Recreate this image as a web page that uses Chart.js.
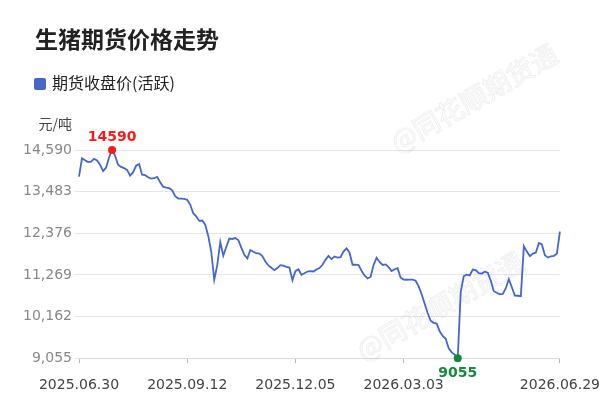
<!DOCTYPE html>
<html>
<head>
<meta charset="utf-8">
<script src="https://cdn.jsdelivr.net/npm/chart.js@4.4.1/dist/chart.umd.min.js"></script>
<style>
  body { margin: 0; background: #fff; }
  #wrap { position: relative; width: 600px; height: 408px; }
  #myChart { position: absolute; left: 0; top: 0; }
  #title { position: absolute; left: 35px; top: 24px; font: bold 23px "Noto Sans CJK SC"; color: #222; line-height: 28px; white-space: nowrap; }
  #legend { position: absolute; left: 34px; top: 72px; font: 16px "Noto Sans CJK SC"; color: #222; line-height: 20px; white-space: nowrap; }
  #legend i { display: inline-block; width: 12px; height: 12px; border-radius: 2px; vertical-align: -1px; margin-right: 6px; }
</style>
</head>
<body>
<div id="wrap">
  <canvas id="myChart" width="600" height="408"></canvas>
  <div id="title">生猪期货价格走势</div>
  <div id="legend"></div>
</div>
<script>
// 数据
var seriesName = '期货收盘价(活跃)';
var unitText = '元/吨';
var tickLabels = ['2025.06.30', '2025.09.12', '2025.12.05', '2026.03.03', '2026.06.29'];
var tickIndex = [0, 36, 72, 108, 160];
var yTicks = [9055, 10162, 11269, 12376, 13483, 14590];
var closePrices = [
  13880, 14370, 14320, 14270, 14280, 14355, 14310, 14200, 14030, 14120,
  14390, 14590, 14440, 14200, 14140, 14110, 14060, 13910, 14000, 14175,
  14215, 13935, 13920, 13865, 13830, 13840, 13875, 13735, 13615, 13590,
  13575, 13520, 13360, 13300, 13295, 13290, 13265, 13140, 12910, 12825,
  12705, 12715, 12605, 12305, 11885, 11140, 11530, 12145, 11780, 12010,
  12235, 12225, 12250, 12195, 11995, 11805, 11705, 11930, 11885, 11850,
  11835, 11770, 11625, 11520, 11460, 11395, 11450, 11530, 11515, 11485,
  11465, 11130, 11370, 11420, 11275, 11315, 11360, 11370, 11360, 11415,
  11450, 11540, 11670, 11775, 11690, 11760, 11730, 11740, 11890, 11975,
  11865, 11540, 11540, 11530, 11380, 11255, 11175, 11215, 11530, 11725,
  11615, 11535, 11550, 11475, 11370, 11420, 11450, 11195, 11145, 11140,
  11145, 11145, 11115, 10965, 10755, 10505, 10255, 10050, 9995, 9975,
  9770, 9645, 9570, 9320, 9210, 9150, 9055, 10815, 11235, 11275,
  11255, 11410, 11395, 11315, 11305, 11355, 11330, 11115, 10835, 10795,
  10755, 10765, 10915, 11155, 10940, 10720, 10715, 10705, 12035, 11890,
  11770, 11835, 11865, 12120, 12080, 11795, 11730, 11765, 11775, 11840,
  12420
];

var lineColor = '#4567cc';
var maxColor = '#ff1a1a';
var minColor = '#138a3c';
var numFont = '"DejaVu Sans", "Noto Sans CJK SC"';

var maxIdx = closePrices.indexOf(Math.max.apply(null, closePrices));
var minIdx = closePrices.indexOf(Math.min.apply(null, closePrices));

// 图例 (html)
document.getElementById('legend').innerHTML =
  '<i style="background:' + lineColor + '"></i>' + seriesName;

// 水印 + 单位 + 最高/最低标注
var extras = {
  id: 'extras',
  beforeDatasetsDraw: function (chart) {
    var c = chart.ctx;
    c.save();
    c.font = '27px "Noto Sans CJK SC"';
    c.strokeStyle = 'rgba(180,180,180,0.22)';
    c.lineWidth = 1;
    c.textAlign = 'center';
    c.textBaseline = 'middle';
    [[474, 98], [440, 306]].forEach(function (p) {
      c.save();
      c.translate(p[0], p[1]);
      c.rotate(-0.52);
      c.strokeText('@同花顺期货通', 0, 0);
      c.restore();
    });
    c.restore();
  },
  afterDatasetsDraw: function (chart) {
    var c = chart.ctx;
    var meta = chart.getDatasetMeta(0);
    var pMax = meta.data[maxIdx], pMin = meta.data[minIdx];
    c.save();
    c.font = 'bold 14px ' + numFont;
    c.textAlign = 'center';
    c.textBaseline = 'middle';
    c.fillStyle = maxColor;
    c.fillText(String(closePrices[maxIdx]), pMax.x, pMax.y - 13);
    c.fillStyle = minColor;
    c.fillText(String(closePrices[minIdx]), pMin.x, pMin.y + 15);

    var area = chart.chartArea;
    c.font = '14px "Noto Sans CJK SC"';
    c.fillStyle = '#444';
    c.textAlign = 'right';
    c.fillText(unitText, area.left - 7, area.top - 26);
    c.restore();
  }
};

var ctx = document.getElementById('myChart').getContext('2d');
var myChart = new Chart(ctx, {
  type: 'line',
  data: {
    datasets: [{
      label: seriesName,
      data: closePrices.map(function (v, i) { return { x: i, y: v }; }),
      borderColor: lineColor,
      backgroundColor: lineColor,
      borderWidth: 1.8,
      tension: 0,
      clip: false,
      pointRadius: function (c) { return (c.dataIndex === maxIdx || c.dataIndex === minIdx) ? 4 : 0; },
      pointHoverRadius: 0,
      pointBorderWidth: 0,
      pointBackgroundColor: function (c) { return c.dataIndex === maxIdx ? maxColor : minColor; }
    }]
  },
  options: {
    responsive: false,
    animation: false,
    devicePixelRatio: 1,
    layout: { padding: { top: 150, bottom: 0, left: 0, right: 0 } },
    plugins: {
      legend: { display: false },
      title: { display: false },
      tooltip: { enabled: false }
    },
    scales: {
      x: {
        type: 'linear',
        min: 0,
        max: closePrices.length - 1,
        afterBuildTicks: function (s) {
          s.ticks = tickIndex.map(function (v) { return { value: v }; });
        },
        ticks: {
          autoSkip: false,
          maxRotation: 0,
          padding: 0,
          color: '#444',
          font: { size: 14, family: numFont, lineHeight: 3.2 },
          callback: function (v) { return tickLabels[tickIndex.indexOf(v)]; }
        },
        grid: { drawOnChartArea: false, tickLength: 5, color: '#bbb' },
        border: { color: '#ddd' }
      },
      y: {
        min: yTicks[0],
        max: yTicks[yTicks.length - 1],
        afterBuildTicks: function (s) {
          s.ticks = yTicks.map(function (v) { return { value: v }; });
        },
        afterFit: function (s) { s.width = 79; },
        ticks: {
          padding: 3,
          color: '#888',
          font: { size: 14, family: numFont },
          callback: function (v) { return v.toLocaleString('en-US'); }
        },
        grid: { color: '#e6e6e6', tickLength: 4 },
        border: { display: false }
      }
    }
  },
  plugins: [extras]
});
</script>
</body>
</html>
